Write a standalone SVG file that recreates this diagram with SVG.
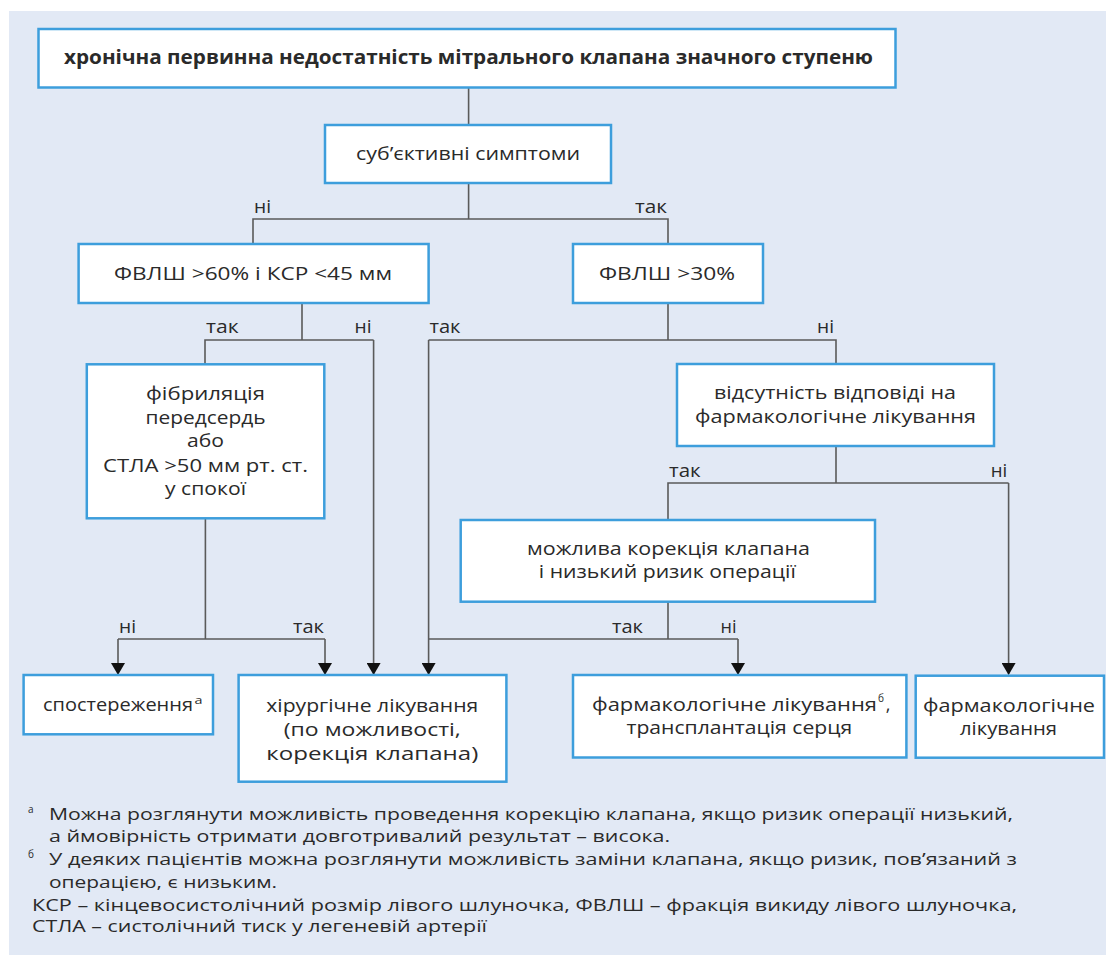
<svg xmlns="http://www.w3.org/2000/svg" width="1106" height="955" viewBox="0 0 1106 955">
<defs>
<style>
.bg{fill:#e2e9f5}
.box{fill:#ffffff;stroke:#3d9edc;stroke-width:2.5}
.ln{fill:none;stroke:#5a5a5a;stroke-width:1.6}
text{font-family:"Open Sans","Noto Sans","DejaVu Sans",sans-serif;fill:#2a2a2a}
.t{font-size:18px;text-anchor:middle}
.tb{font-size:19px;font-weight:bold;text-anchor:middle}
.lb{font-size:18px;text-anchor:middle}
.fn{font-size:16px}
.sup{font-size:10px}
</style>
<marker id="arr" markerUnits="userSpaceOnUse" markerWidth="12" markerHeight="14" refX="11" refY="7" orient="auto" viewBox="0 0 12 14">
<path d="M0,0 L12,7 L0,14 Z" fill="#111111"/>
</marker>
</defs>
<rect x="0" y="0" width="1106" height="955" fill="#ffffff"/>
<rect class="bg" x="9" y="11" width="1097" height="944"/>

<g id="connectors">
<path class="ln" d="M468.6,87.5 V125"/>
<path class="ln" d="M468.6,183 V219 M253,244 V219 H668 V244"/>
<path class="ln" d="M302,303 V340 M205,364 V340 H373.6"/>
<path class="ln" d="M668,303 V340 M428.6,340 H836 V364"/>
<path class="ln" d="M836,446 V483 M668,520 V483 H1008.6"/>
<path class="ln" d="M668,602 V639 M428.6,639 H738"/>
<path class="ln" d="M205.4,518 V639 M118,639 H325"/>
<path class="ln" d="M373.6,340 V674" marker-end="url(#arr)"/>
<path class="ln" d="M428.6,340 V674" marker-end="url(#arr)"/>
<path class="ln" d="M1008.6,483 V674" marker-end="url(#arr)"/>
<path class="ln" d="M738,639 V674" marker-end="url(#arr)"/>
<path class="ln" d="M118,639 V674" marker-end="url(#arr)"/>
<path class="ln" d="M325,639 V674" marker-end="url(#arr)"/>
<text class="lb" x="262.5" y="213" textLength="17" lengthAdjust="spacingAndGlyphs">ні</text>
<text class="lb" x="651" y="213" textLength="32" lengthAdjust="spacingAndGlyphs">так</text>
<text class="lb" x="222.3" y="333" textLength="32.6" lengthAdjust="spacingAndGlyphs">так</text>
<text class="lb" x="363" y="333" textLength="17" lengthAdjust="spacingAndGlyphs">ні</text>
<text class="lb" x="445" y="333" textLength="31" lengthAdjust="spacingAndGlyphs">так</text>
<text class="lb" x="825.5" y="333" textLength="17" lengthAdjust="spacingAndGlyphs">ні</text>
<text class="lb" x="684.8" y="477" textLength="31.6" lengthAdjust="spacingAndGlyphs">так</text>
<text class="lb" x="999" y="477" textLength="16.5" lengthAdjust="spacingAndGlyphs">ні</text>
<text class="lb" x="127.5" y="633" textLength="17" lengthAdjust="spacingAndGlyphs">ні</text>
<text class="lb" x="308.5" y="633" textLength="31" lengthAdjust="spacingAndGlyphs">так</text>
<text class="lb" x="627.5" y="633" textLength="31" lengthAdjust="spacingAndGlyphs">так</text>
<text class="lb" x="728.6" y="633" textLength="16" lengthAdjust="spacingAndGlyphs">ні</text>
</g>

<g id="n-title">
<rect class="box" x="38.5" y="29" width="857" height="58.5"/>
<text class="tb" x="468.5" y="64" textLength="809" lengthAdjust="spacingAndGlyphs">хронічна первинна недостатність мітрального клапана значного ступеню</text>
</g>
<g id="n-symptoms">
<rect class="box" x="325" y="125" width="286" height="58"/>
<text class="t" x="468" y="160" textLength="224" lengthAdjust="spacingAndGlyphs">суб’єктивні симптоми</text>
</g>
<g id="n-lvef60">
<rect class="box" x="78.6" y="244" width="350" height="59"/>
<text class="t" x="253" y="280" textLength="278" lengthAdjust="spacingAndGlyphs">ФВЛШ &gt;60% і КСР &lt;45 мм</text>
</g>
<g id="n-lvef30">
<rect class="box" x="573" y="244" width="190" height="59"/>
<text class="t" x="667" y="280" textLength="136" lengthAdjust="spacingAndGlyphs">ФВЛШ &gt;30%</text>
</g>
<g id="n-af">
<rect class="box" x="86.8" y="364.3" width="237.5" height="154"/>
<text class="t" x="205.5" y="400" textLength="119" lengthAdjust="spacingAndGlyphs">фібриляція</text>
<text class="t" x="205.5" y="424" textLength="120" lengthAdjust="spacingAndGlyphs">передсердь</text>
<text class="t" x="205.5" y="447" textLength="37" lengthAdjust="spacingAndGlyphs">або</text>
<text class="t" x="205.5" y="472" textLength="205" lengthAdjust="spacingAndGlyphs">СТЛА &gt;50 мм рт. ст.</text>
<text class="t" x="205.5" y="495" textLength="81" lengthAdjust="spacingAndGlyphs">у спокої</text>
</g>
<g id="n-noresponse">
<rect class="box" x="677" y="364" width="317" height="82"/>
<text class="t" x="835" y="399" textLength="242" lengthAdjust="spacingAndGlyphs">відсутність відповіді на</text>
<text class="t" x="835.5" y="423" textLength="281" lengthAdjust="spacingAndGlyphs">фармакологічне лікування</text>
</g>
<g id="n-valve">
<rect class="box" x="460.7" y="520" width="414.3" height="81.7"/>
<text class="t" x="668.5" y="555" textLength="283" lengthAdjust="spacingAndGlyphs">можлива корекція клапана</text>
<text class="t" x="667.3" y="578" textLength="257" lengthAdjust="spacingAndGlyphs">і низький ризик операції</text>
</g>
<g id="n-observation">
<rect class="box" x="23.6" y="675" width="189.4" height="59.3"/>
<text class="t" x="118" y="711" textLength="150" lengthAdjust="spacingAndGlyphs">спостереження</text>
<text class="sup" x="194.6" y="704" textLength="8" lengthAdjust="spacingAndGlyphs">а</text>
</g>
<g id="n-surgery">
<rect class="box" x="238.6" y="675" width="267.8" height="106.7"/>
<text class="t" x="372.3" y="711.5" textLength="212" lengthAdjust="spacingAndGlyphs">хірургічне лікування</text>
<text class="t" x="372.3" y="735.5" textLength="177" lengthAdjust="spacingAndGlyphs">(по можливості,</text>
<text class="t" x="372.3" y="759.5" textLength="212" lengthAdjust="spacingAndGlyphs">корекція клапана)</text>
</g>
<g id="n-pharm-transplant">
<rect class="box" x="573" y="675" width="333.4" height="82.5"/>
<text class="t" x="734.5" y="711" textLength="285" lengthAdjust="spacingAndGlyphs">фармакологічне лікування</text>
<text class="sup" x="878" y="702" textLength="6" lengthAdjust="spacingAndGlyphs">б</text>
<text class="t" x="888" y="711">,</text>
<text class="t" x="739.3" y="734" textLength="225.6" lengthAdjust="spacingAndGlyphs">трансплантація серця</text>
</g>
<g id="n-pharm">
<rect class="box" x="915.7" y="675.7" width="188.3" height="82"/>
<text class="t" x="1009" y="712" textLength="172" lengthAdjust="spacingAndGlyphs">фармакологічне</text>
<text class="t" x="1008.5" y="735" textLength="97" lengthAdjust="spacingAndGlyphs">лікування</text>
</g>

<g id="footnotes">
<text class="sup" x="28" y="813">а</text>
<text class="fn" x="49" y="820" textLength="964" lengthAdjust="spacingAndGlyphs">Можна розглянути можливість проведення корекцію клапана, якщо ризик операції низький,</text>
<text class="fn" x="49" y="842" textLength="621" lengthAdjust="spacingAndGlyphs">а ймовірність отримати довготривалий результат – висока.</text>
<text class="sup" x="28" y="858">б</text>
<text class="fn" x="49" y="865" textLength="968" lengthAdjust="spacingAndGlyphs">У деяких пацієнтів можна розглянути можливість заміни клапана, якщо ризик, пов’язаний з</text>
<text class="fn" x="49" y="888" textLength="228" lengthAdjust="spacingAndGlyphs">операцією, є низьким.</text>
<text class="fn" x="32" y="911" textLength="985" lengthAdjust="spacingAndGlyphs">КСР – кінцевосистолічний розмір лівого шлуночка, ФВЛШ – фракція викиду лівого шлуночка,</text>
<text class="fn" x="32" y="932" textLength="455" lengthAdjust="spacingAndGlyphs">СТЛА – систолічний тиск у легеневій артерії</text>
</g>
</svg>
